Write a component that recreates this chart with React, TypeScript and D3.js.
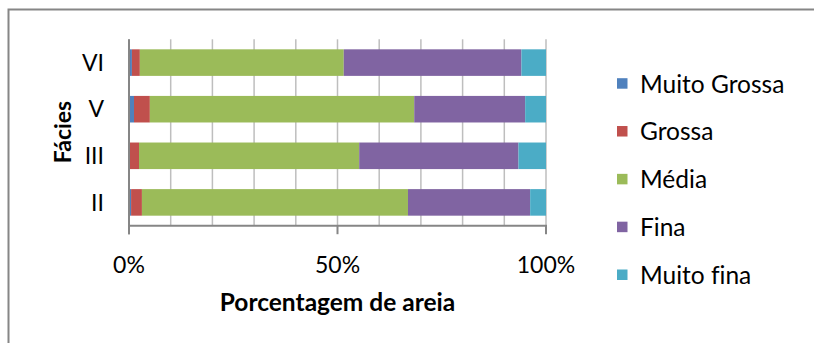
import React from "react";
import * as d3 from "d3";

const categories = ["II", "III", "V", "VI"];
const seriesNames = ["Muito Grossa", "Grossa", "Média", "Fina", "Muito fina"];
const muitoGrossa = [0.5, 0.2, 1.2, 0.7];
const grossa = [2.6, 2.2, 3.8, 1.9];
const media = [63.8, 52.8, 63.4, 48.9];
const fina = [29.3, 38.2, 26.6, 42.6];
const muitoFina = [3.8, 6.6, 5.0, 5.9];
const xTicks = [0, 50, 100];
const colors = ["#4F81BD", "#C0504D", "#9BBB59", "#8064A2", "#4BACC6"];

const FONT = "Lato, 'Open Sans', sans-serif";

export default function App() {
  const W = 814, H = 343;
  const left = 129, right = 546, top = 39.3, bottom = 225.7;
  const x = d3.scaleLinear().domain([0, 100]).range([left, right]);
  const y = d3
    .scaleBand<string>()
    .domain([...categories].reverse())
    .range([top, bottom])
    .paddingInner(0.43)
    .paddingOuter(0.215);

  const rows = categories.map((c, i) => {
    const vals = [muitoGrossa[i], grossa[i], media[i], fina[i], muitoFina[i]];
    const total = d3.sum(vals);
    return { c, vals: vals.map((v) => (v / total) * 100) };
  });

  const grid = d3.range(0, 101, 10);
  const legendY = d3.scaleLinear().domain([0, 4]).range([83.7, 275]);
  const txt = { fontFamily: FONT, fill: "#000", style: { fontVariantLigatures: "none" as const } };

  return (
    <svg
      width={W}
      height={H}
      style={{ position: "absolute", left: 0, top: 0, background: "#fff" }}
    >
      <rect x={8.5} y={9.5} width={900} height={400} fill="#fff" stroke="#868686" strokeWidth={2} />
      {grid.map((g) => (
        <line key={g} x1={x(g)} x2={x(g)} y1={top} y2={bottom} stroke="#BEBEBE" strokeWidth={1.5} />
      ))}
      {rows.map((r) => {
        let acc = 0;
        return (
          <g key={r.c}>
            {r.vals.map((v, k) => {
              const x0 = acc;
              acc += v;
              return (
                <rect
                  key={k}
                  x={x(x0)}
                  y={y(r.c)!}
                  width={x(x0 + v) - x(x0)}
                  height={y.bandwidth()}
                  fill={colors[k]}
                />
              );
            })}
          </g>
        );
      })}
      <line x1={left} x2={left} y1={top} y2={bottom + 8.5} stroke="#868686" strokeWidth={2} />
      <line x1={left} x2={right + 1} y1={bottom} y2={bottom} stroke="#868686" strokeWidth={2} />
      {xTicks.map((t) => (
        <line key={t} x1={x(t)} x2={x(t)} y1={bottom} y2={bottom + 8.5} stroke="#868686" strokeWidth={2} />
      ))}
      {xTicks.map((t) => (
        <text key={t} x={x(t)} y={273} textAnchor="middle" fontSize={23} {...txt}>
          {t}%
        </text>
      ))}
      <text x={x(50)} y={311} textAnchor="middle" fontSize={24.5} fontWeight="bold" {...txt}>
        Porcentagem de areia
      </text>
      {categories.map((c) => (
        <text
          key={c}
          x={104}
          y={y(c)! + y.bandwidth() / 2}
          dy="0.36em"
          textAnchor="end"
          fontSize={23}
          {...txt}
        >
          {c}
        </text>
      ))}
      <text
        transform={`translate(63,132) rotate(-90)`}
        textAnchor="middle"
        dy="0.36em"
        fontSize={23}
        fontWeight="bold"
        {...txt}
      >
        Fácies
      </text>
      {seriesNames.map((s, k) => (
        <g key={s}>
          <rect x={617} y={legendY(k) - 5.5} width={10.5} height={10.5} fill={colors[k]} />
          <text x={640} y={legendY(k)} dy="0.36em" fontSize={24.5} {...txt}>
            {s}
          </text>
        </g>
      ))}
    </svg>
  );
}
